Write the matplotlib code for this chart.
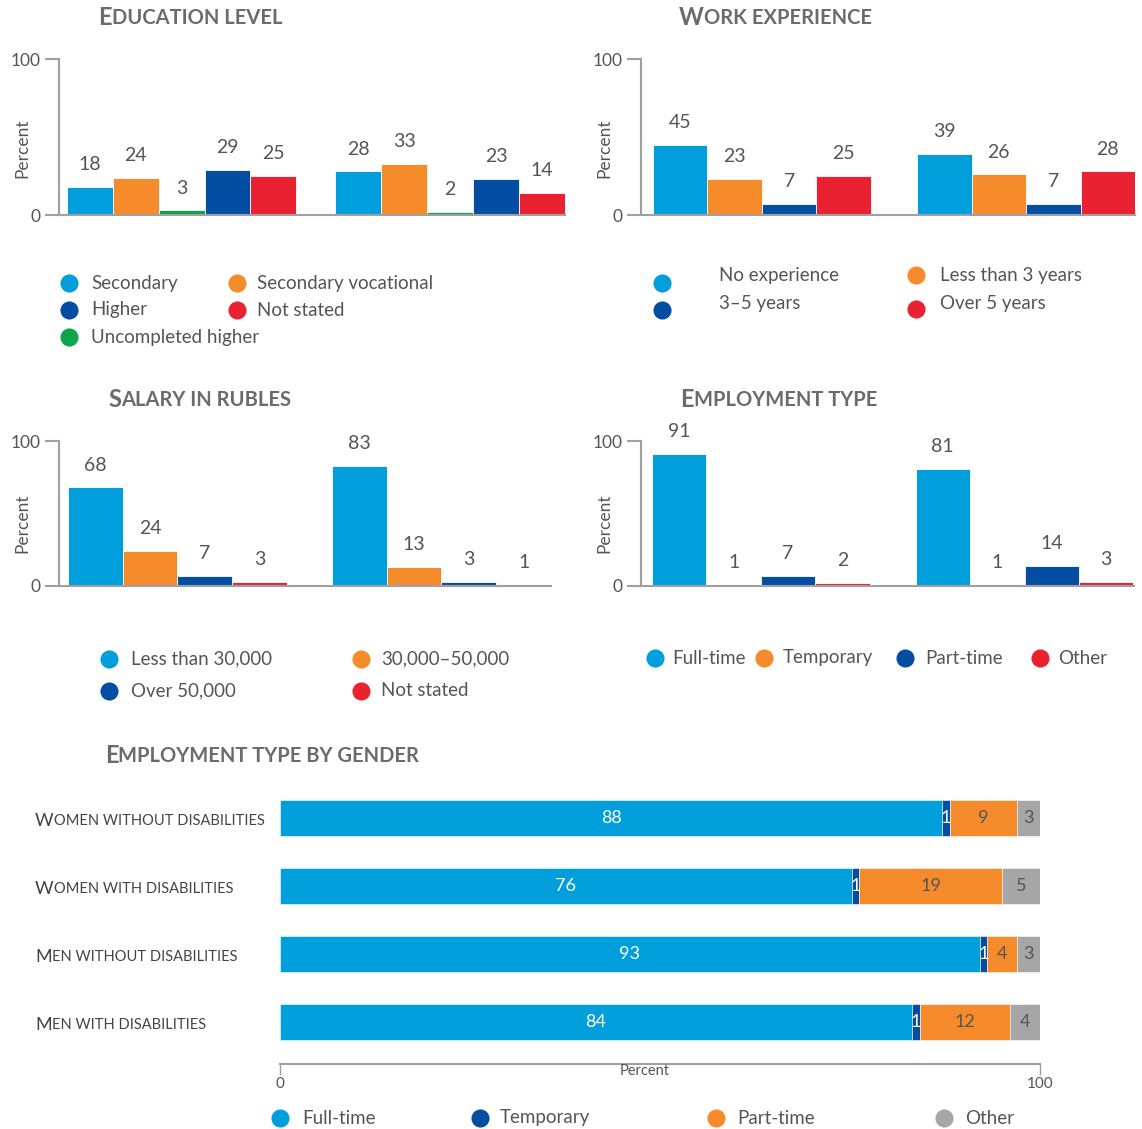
import matplotlib.pyplot as plt
import matplotlib.transforms as mtransforms
import numpy as np

plt.rcParams['font.family'] = ['Lato', 'DejaVu Sans']

# data
edu_labels = ['Secondary', 'Secondary vocational', 'Uncompleted higher', 'Higher', 'Not stated']
edu_g1 = [18, 24, 3, 29, 25]
edu_g2 = [28, 33, 2, 23, 14]

work_labels = ['No experience', 'Less than 3 years', '3–5 years', 'Over 5 years']
work_g1 = [45, 23, 7, 25]
work_g2 = [39, 26, 7, 28]

salary_labels = ['Less than 30,000', '30,000–50,000', 'Over 50,000', 'Not stated']
salary_g1 = [68, 24, 7, 3]
salary_g2 = [83, 13, 3, 1]

emp_labels = ['Full-time', 'Temporary', 'Part-time', 'Other']
emp_g1 = [91, 1, 7, 2]
emp_g2 = [81, 1, 14, 3]

gender_cats = ['Women without disabilities', 'Women with disabilities',
               'Men without disabilities', 'Men with disabilities']
g_fulltime = [88, 76, 93, 84]
g_temporary = [1, 1, 1, 1]
g_parttime = [9, 19, 4, 12]
g_other = [3, 5, 3, 4]

# colours
CYAN = '#009fdb'
ORANGE = '#f68b2c'
GREEN = '#0aa64a'
NAVY = '#034ea2'
RED = '#e92232'
GREY = '#a6a6a6'
TXT = '#555555'
AXC = '#a0a0a0'

W, H = 1142, 1129
fig = plt.figure(figsize=(W / 100, H / 100), dpi=100)


def px_rect(x0, y0, x1, y1):
    return [x0 / W, 1 - y1 / H, (x1 - x0) / W, (y1 - y0) / H]


def small_caps(ax, x, y, text, big, small, color, weight='normal', **kw):
    # first letter full size, the rest as capitals in a smaller size
    t1 = ax.text(x, y, text[0], fontsize=big, color=color, fontweight=weight,
                 va='baseline', ha='left', **kw)
    ax.annotate(text[1:].upper(), xy=(1, 0), xycoords=t1,
                xytext=(0, 0.21 * (big - small)), textcoords='offset points',
                fontsize=small, color=color, fontweight=weight, va='bottom', ha='left')
    return t1


def bar_panel(rect, groups, colors, step, xlim, ylab_x):
    ax = fig.add_axes(rect)
    for g, vals in enumerate(groups):
        x = g * step + np.arange(len(vals))
        ax.bar(x, vals, width=1, color=colors, edgecolor='white', linewidth=0.6)
        for xi, v in zip(x, vals):
            ax.annotate(str(v), (xi, v), xytext=(0, 16), textcoords='offset points',
                        ha='center', va='center', fontsize=14, color=TXT)
    ax.set_xlim(xlim)
    ax.set_ylim(0, 100)
    for s in ['top', 'right']:
        ax.spines[s].set_visible(False)
    for s in ['left', 'bottom']:
        ax.spines[s].set_color(AXC)
        ax.spines[s].set_linewidth(1.5)
    ax.set_xticks([])
    ax.set_yticks([0, 100])
    ax.tick_params(axis='y', length=10, width=1.5, color=AXC, pad=3,
                   labelsize=12.5, labelcolor=TXT)
    ax.set_ylabel('Percent', fontsize=12.5, color=TXT)
    ax.yaxis.set_label_coords(ylab_x, 0.43)
    return ax


bar_panel(px_rect(59, 59, 565, 215), [edu_g1, edu_g2],
          [CYAN, ORANGE, GREEN, NAVY, RED], 5.85, (-0.67, 10.35), -29 / 506)
bar_panel(px_rect(641, 59, 1135, 215), [work_g1, work_g2],
          [CYAN, ORANGE, NAVY, RED], 4.85, (-0.72, 8.35), -29 / 494)
bar_panel(px_rect(59, 441, 551, 586), [salary_g1, salary_g2],
          [CYAN, ORANGE, NAVY, RED], 4.82, (-0.66, 8.32), -29 / 492)
bar_panel(px_rect(641, 441, 1134, 586), [emp_g1, emp_g2],
          [CYAN, ORANGE, NAVY, RED], 4.84, (-0.70, 8.35), -29 / 493)

# stacked horizontal chart
axb = fig.add_axes(px_rect(280, 784, 1040, 1056))
segs = [g_fulltime, g_temporary, g_parttime, g_other]
seg_colors = [CYAN, NAVY, ORANGE, GREY]
lab_colors = ['white', 'white', TXT, TXT]
tot = np.sum(segs, axis=0)
y = np.arange(len(gender_cats))
left = np.zeros(len(gender_cats))
for vals, c, lc in zip(segs, seg_colors, lab_colors):
    w = np.array(vals) / tot * 100
    axb.barh(y, w, left=left, height=0.53, color=c, edgecolor='white', linewidth=0.4)
    for yi, li, wi, v in zip(y, left, w, vals):
        axb.text(li + wi / 2, yi, str(v), ha='center', va='center', fontsize=13, color=lc)
    left += w
axb.set_xlim(0, 100)
axb.set_ylim(3.5, -0.5)
for s in ['top', 'right', 'left']:
    axb.spines[s].set_visible(False)
axb.spines['bottom'].set_position(('outward', 6))
axb.spines['bottom'].set_color(AXC)
axb.spines['bottom'].set_linewidth(1.5)
axb.set_yticks([])
axb.set_xticks([0, 100])
axb.tick_params(axis='x', length=8, width=1, color=AXC, pad=1,
                labelsize=11, labelcolor=TXT)
axb.text(0.48, -0.055, 'Percent', transform=axb.transAxes, ha='center', va='center',
         fontsize=10.5, color=TXT)
trans = mtransforms.blended_transform_factory(axb.transAxes, axb.transData)
for yi, cat in zip(y, gender_cats):
    small_caps(axb, -245 / 760, yi + 0.12, cat, 13, 10.5, '#444444', transform=trans)

# overlay for titles and legends, pixel coordinates
ov = fig.add_axes([0, 0, 1, 1])
ov.set_xlim(0, W)
ov.set_ylim(H, 0)
ov.axis('off')

TC = '#6b6b6b'
small_caps(ov, 98, 25, 'Education level', 17, 14.5, TC, weight='bold')
small_caps(ov, 679, 25, 'Work experience', 17, 14.5, TC, weight='bold')
small_caps(ov, 108, 407, 'Salary in rubles', 17, 14.5, TC, weight='bold')
small_caps(ov, 680, 407, 'Employment type', 17, 14.5, TC, weight='bold')
small_caps(ov, 105, 763, 'Employment type by gender', 17, 14.5, TC, weight='bold')


def legend_item(mx, my, tx, ty, label, color):
    ov.scatter([mx], [my], s=170, color=color, linewidths=0)
    ov.text(tx, ty, label, ha='left', va='center', fontsize=13.5, color=TXT)


# education legend
legend_item(69, 283, 91, 283, edu_labels[0], CYAN)
legend_item(237, 283, 257, 283, edu_labels[1], ORANGE)
legend_item(69, 310, 91, 310, edu_labels[3], NAVY)
legend_item(237, 310, 257, 310, edu_labels[4], RED)
legend_item(69, 337, 91, 337, edu_labels[2], GREEN)

# work legend
legend_item(662, 283, 719, 276, work_labels[0], CYAN)
legend_item(662, 310, 719, 303, work_labels[2], NAVY)
legend_item(916, 275, 940, 275, work_labels[1], ORANGE)
legend_item(916, 309, 940, 303, work_labels[3], RED)

# salary legend
legend_item(109, 659, 131, 659, salary_labels[0], CYAN)
legend_item(361, 659, 381, 659, salary_labels[1], ORANGE)
legend_item(109, 691, 131, 691, salary_labels[2], NAVY)
legend_item(361, 691, 381, 691, salary_labels[3], RED)

# employment type legend
for mx, tx, lab, c in zip([655, 764, 905, 1040], [672, 783, 925, 1058],
                          emp_labels, [CYAN, ORANGE, NAVY, RED]):
    legend_item(mx, 658, tx, 658, lab, c)

# gender legend
for mx, tx, lab, c in zip([280, 480, 716, 944], [302, 500, 737, 965],
                          emp_labels, [CYAN, NAVY, ORANGE, GREY]):
    legend_item(mx, 1118, tx, 1118, lab, c)

fig.savefig('out.png', dpi=100)
